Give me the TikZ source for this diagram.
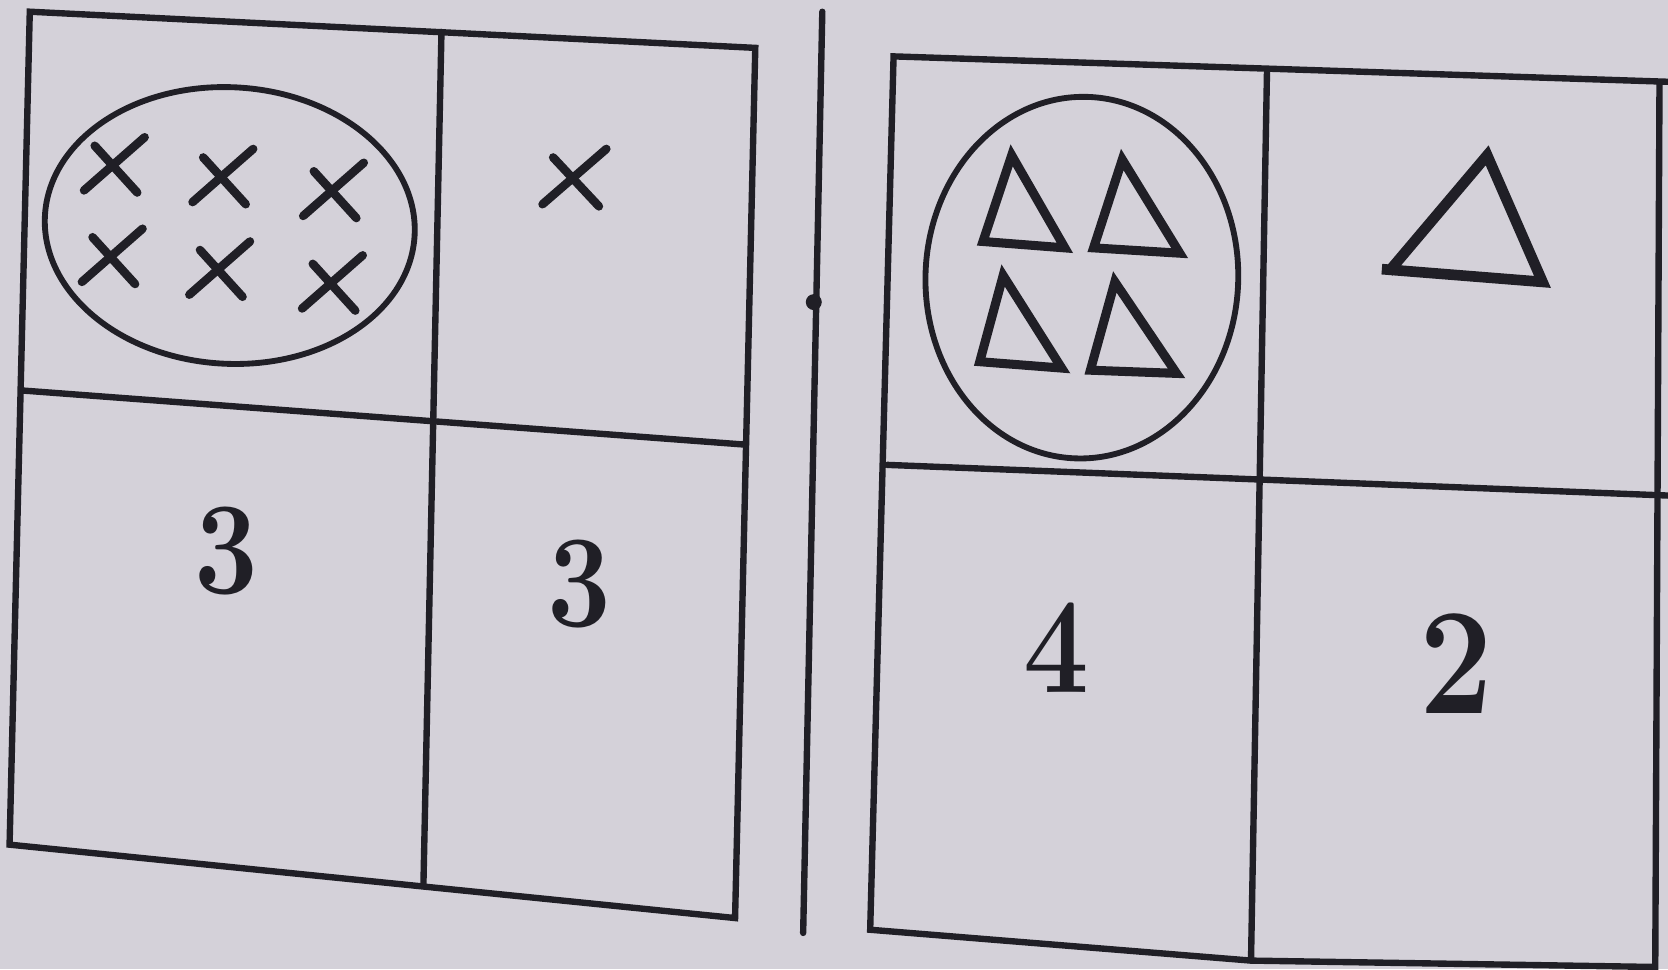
\documentclass[tikz,border=0pt]{standalone}
\definecolor{paper}{RGB}{212,209,217}
\definecolor{inkc}{RGB}{32,31,38}
\begin{document}
\begin{tikzpicture}[x=1pt,y=-1pt,
  gridline/.style={draw=inkc,line width=6pt,line cap=round,line join=miter},
  ring/.style={draw=inkc,line width=5.5pt},
  cross/.style={draw=inkc,line width=8pt,line cap=round},
  tri/.style={draw=inkc,line width=8.5pt,line join=miter},
  digit/.style={inner sep=0pt,text=inkc,xscale=0.86}]
\useasboundingbox (0,0) rectangle (1568,911);
\fill[paper] (0,0) rectangle (1568,911);
\clip (0,0) rectangle (1568,911);

% ---------- left grid ----------
\coordinate (LTL) at (28,11);
\coordinate (LTR) at (710,45);
\coordinate (LBR) at (691,863);
\coordinate (LBL) at (9,794);
\coordinate (LMT) at (415,30);
\coordinate (LMB) at (398,833);
\coordinate (LML) at (20,367);
\coordinate (LMR) at (701,418);
\draw[gridline] (LTL) -- (LTR) -- (LBR) -- (LBL) -- cycle;
\draw[gridline] (LMT) -- (LMB);
\draw[gridline] (LML) -- (LMR);

% ellipse with six crosses
\coordinate (E) at (216,212);
\draw[ring,rotate around={-3:(E)}] (E) ellipse [x radius=174pt,y radius=130pt];
\foreach \cx/\cy [count=\i] in {107/155,209/166,313/179,105/241,206/253,312/266}{
  \coordinate (X\i) at (\cx,\cy);
  \draw[cross] ([shift={(-28,24)}]X\i) -- ([shift={(29,-26)}]X\i);
  \draw[cross] ([shift={(-18,-18)}]X\i) -- ([shift={(22,26)}]X\i);
}
% single cross
\coordinate (XS) at (540,167);
\draw[cross] ([shift={(-30,25)}]XS) -- ([shift={(30,-27)}]XS);
\draw[cross] ([shift={(-20,-19)}]XS) -- ([shift={(23,27)}]XS);

\node[digit,font=\bfseries\fontsize{124}{126}\selectfont] (n3a) at (213,518) {3};
\node[digit,font=\bfseries\fontsize{124}{126}\selectfont] (n3b) at (545,549) {3};

% ---------- divider ----------
\coordinate (DT) at (773,11);
\coordinate (DB) at (755,877);
\draw[gridline] (DT) -- (DB);
\fill[inkc] (765,284) circle [radius=7.5pt];

% ---------- right grid ----------
\coordinate (RTL) at (840,53);
\coordinate (RTE) at (1572,77);
\coordinate (RRT) at (1560,77);
\coordinate (RRB) at (1556,909);
\coordinate (RBL) at (818,874);
\coordinate (RBM) at (1176,903);
\coordinate (RMT) at (1191,68);
\coordinate (RML) at (834,437);
\coordinate (RMR) at (1572,466);
\draw[gridline] (RTE) -- (RTL) -- (RBL) -- (RBM) -- (RRB) -- (RRT);
\draw[gridline] (RMT) -- (RBM);
\draw[gridline] (RML) -- (RMR);

% circle with four triangles
\coordinate (C) at (1017,261);
\draw[ring,rotate around={-2:(C)}] (C) ellipse [x radius=147pt,y radius=170pt];
\draw[tri] (951,146) -- (924,227) -- (1001,233) -- cycle;
\draw[tri] (1055,150) -- (1028,233) -- (1109,238) -- cycle;
\draw[tri] (943,259) -- (921,340) -- (998,346) -- cycle;
\draw[tri] (1048,265) -- (1025,348) -- (1106,351) -- cycle;

% single triangle
\draw[tri,line width=10pt] (1305,256) -- (1398,146) -- (1450,265) -- (1299,253);

\node[digit,font=\bfseries\fontsize{128}{130}\selectfont] (n4) at (993,609) {4};
\node[digit,font=\bfseries\fontsize{143}{145}\selectfont] (n2) at (1369,624) {2};
\end{tikzpicture}
\end{document}
